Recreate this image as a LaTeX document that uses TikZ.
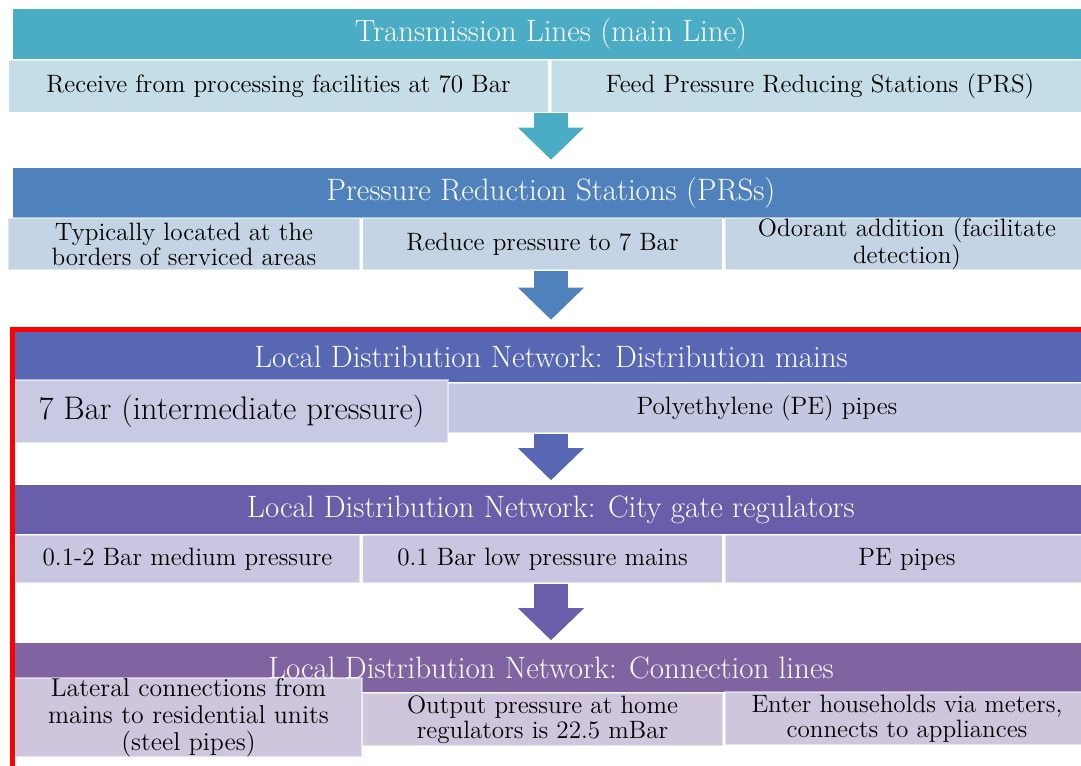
\documentclass[tikz,border=0pt]{standalone}
\usetikzlibrary{arrows.meta, positioning}
\definecolor{tlhead}{HTML}{4BACC6}
\definecolor{tlsub}{HTML}{C4DDE6}
\definecolor{prshead}{HTML}{4F81BD}
\definecolor{prssub}{HTML}{C5D4E4}
\definecolor{ldmhead}{HTML}{5867B4}
\definecolor{ldmsub}{HTML}{C4C7E1}
\definecolor{cgrhead}{HTML}{685EAA}
\definecolor{cgrsub}{HTML}{C8C6E0}
\definecolor{clhead}{HTML}{8064A2}
\definecolor{clsub}{HTML}{CEC6DD}

\begin{document}
\begin{tikzpicture}[x=0.02cm, y=-0.02cm,
  head/.style={rectangle, minimum width=21.52cm, minimum height=1cm, inner sep=0pt, text=white, font=\fontsize{17.6}{19}\selectfont},
  sub/.style={rectangle, draw=white, draw opacity=0.5, line width=0.8pt, minimum height=1.04cm, inner sep=0pt, align=center, font=\fontsize{14.3}{14.3}\selectfont},
  half/.style={sub, minimum width=10.8cm},
  third/.style={sub, minimum width=7.2cm},
  flow/.style={line width=0.68cm, -{Triangle[length=0.64cm, width=1.32cm, line width=0pt]}}
]
  \useasboundingbox (0,0) rectangle (1081,766);
  \node[head, fill=tlhead] (tl) at (551,34) {Transmission Lines (main Line)};
  \node[half, fill=tlsub] (recv) at (278.5,86.5) {Receive from processing facilities at 70 Bar};
  \node[half, fill=tlsub, minimum width=10.76cm] (feed) at (820,86.5) {Feed Pressure Reducing Stations (PRS)};

  \node[head, fill=prshead] (prs) at (551,193) {Pressure Reduction Stations (PRSs)};
  \node[third, fill=prssub, minimum width=7.04cm] (loc) at (184,244) {Typically located at the\\borders of serviced areas};
  \node[third, fill=prssub] (reduce) at (542.5,244) {Reduce pressure to 7 Bar};
  \node[third, fill=prssub, minimum width=7.28cm] (odor) at (907,244) {Odorant addition (facilitate\\detection)};

  \node[head, fill=ldmhead] (ldm) at (551,357) {Local Distribution Network: Distribution mains};
  \node[sub, fill=ldmsub, minimum width=12.98cm, minimum height=1cm] (pe) at (764.5,408) {\hspace*{0.1cm}Polyethylene (PE) pipes};
  \node[sub, fill=ldmsub!95!white, minimum width=8.66cm, minimum height=1.26cm, font=\fontsize{18.6}{20}\selectfont] (bar7) at (231.5,411.5) {7 Bar (intermediate pressure)};

  \node[head, fill=cgrhead] (cgr) at (551,509.5) {Local Distribution Network: City gate regulators};
  \node[third, fill=cgrsub, minimum width=6.9cm, minimum height=0.96cm] (med) at (187.5,559) {0.1-2 Bar medium pressure};
  \node[third, fill=cgrsub, minimum height=0.96cm] (low) at (542.5,559) {0.1 Bar low pressure mains};
  \node[third, fill=cgrsub, minimum width=7.28cm, minimum height=0.96cm] (pepipes) at (907,559) {PE pipes};

  \node[head, fill=clhead] (cl) at (551,667.5) {Local Distribution Network: Connection lines};
  \node[third, fill=clsub, minimum width=7.22cm, minimum height=1.06cm] (outp) at (542.5,719.5) {Output pressure at home\\regulators is 22.5 mBar};
  \node[third, fill=clsub, minimum width=7.28cm, minimum height=1.06cm] (meter) at (907,718.5) {Enter households via meters,\\connects to appliances};
  \node[sub, fill=clsub, minimum width=6.94cm, minimum height=1.58cm, font=\fontsize{14.7}{15.4}\selectfont] (lat) at (188.5,717.5) {Lateral connections from\\mains to residential units\\(steel pipes)};

  \draw[flow, tlhead, shorten >=0.16cm] (recv.south -| tl.south) -- (prs.north);
  \draw[flow, prshead, shorten >=0.24cm] (reduce.south -| prs.south) -- (ldm.north);
  \draw[flow, ldmhead, shorten >=0.08cm] (pe.south -| ldm.south) -- (cgr.north);
  \draw[flow, cgrhead, shorten >=0.04cm] (low.south -| cgr.south) -- (cl.north);

  \draw[red, line width=0.1cm] (12.5,800) |- (1100,329.5);
\end{tikzpicture}
\end{document}
